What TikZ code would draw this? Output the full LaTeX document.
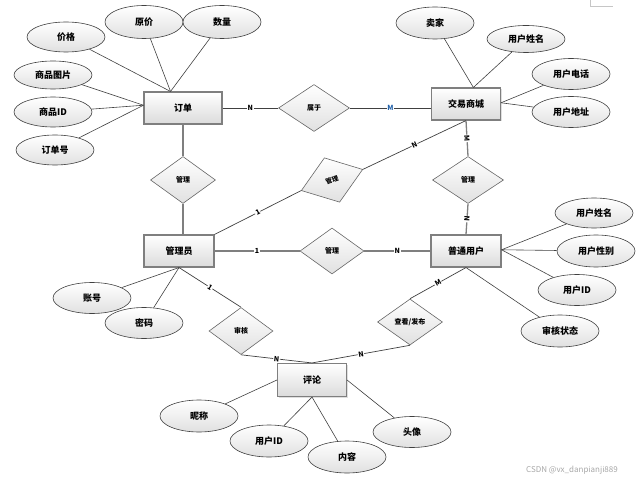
\documentclass[tikz,border=0pt]{standalone}
\usepackage{fontspec}
\setmainfont{Noto Sans CJK SC}
\usetikzlibrary{shapes.geometric,shadows}
\definecolor{lineA}{HTML}{404040}
\definecolor{lineR}{HTML}{7F7F7F}
\definecolor{blueM}{HTML}{1F5FA8}
\tikzset{
  ent/.style={rectangle, draw=lineR, line width=1.1pt, top color=white, bottom color=black!14,
    minimum width=70pt, minimum height=32pt, inner sep=0pt,
    font=\fontsize{9}{10}\selectfont\bfseries,
    drop shadow={shadow xshift=1pt, shadow yshift=-1pt, opacity=.25}},
  attr/.style={ellipse, draw=lineA, line width=0.6pt, top color=white, bottom color=black!12,
    minimum width=78pt, minimum height=30pt, inner sep=0pt,
    font=\fontsize{9}{10}\selectfont\bfseries},
  rel/.style={diamond, draw=lineA!80, line width=0.6pt, top color=white, bottom color=black!12,
    minimum width=65pt, minimum height=47pt, inner sep=0pt,
    font=\fontsize{7}{8}\selectfont\bfseries},
  aline/.style={draw=lineA, line width=0.6pt},
  rline/.style={draw=lineR, line width=1.3pt},
  sline/.style={draw=lineA, line width=0.7pt},
  card/.style={font=\fontsize{7}{8}\selectfont\bfseries, fill=white, inner sep=0.6pt, sloped},
}
\begin{document}
\begin{tikzpicture}[x=1pt,y=-1pt]
\useasboundingbox (0,0) rectangle (642,481);
% entities
\node[ent, minimum width=78pt] (dd) at (183,108) {订单};
\node[ent, minimum width=69pt] (jy) at (466,104) {交易商城};
\node[ent] (gly) at (179,251) {管理员};
\node[ent] (pt) at (466,251) {普通用户};
\node[ent, minimum width=69pt, minimum height=33pt] (pl) at (312,380) {评论};
% relations
\node[rel, minimum width=71pt] (sy) at (314,108) {属于};
\node[rel] (gl1) at (183,180) {管理};
\node[rel, rotate=19, font=\fontsize{6.5}{7}\selectfont\bfseries] (gl2) at (332,180) {管理};
\node[rel, minimum width=71pt] (gl3) at (468,180) {管理};
\node[rel, minimum width=64pt, minimum height=46pt] (gl4) at (332,251) {管理};
\node[rel, minimum height=46pt] (ck) at (410,322) {查看/发布};
\node[rel, minimum width=64pt] (sh) at (241,331) {审核};
% attributes
\node[attr] (jg) at (66,37) {价格};
\node[attr, minimum height=33pt] (yj) at (144,22) {原价};
\node[attr, minimum height=33pt] (sl) at (222,22) {数量};
\node[attr, minimum height=28pt] (tp) at (53,75) {商品图片};
\node[attr] (spid) at (53,112) {商品ID};
\node[attr] (ddh) at (55,150) {订单号};
\node[attr, minimum height=32pt] (mj) at (435,23) {卖家};
\node[attr, minimum height=27pt] (xm1) at (526,39) {用户姓名};
\node[attr, minimum height=31pt] (dh) at (571,74) {用户电话};
\node[attr, minimum height=31pt] (dz) at (571,112) {用户地址};
\node[attr] (xm2) at (594,213) {用户姓名};
\node[attr, minimum height=32pt] (xb) at (596,251) {用户性别};
\node[attr, minimum height=31pt] (uid) at (577,290) {用户ID};
\node[attr, minimum height=32pt] (zt) at (560,331) {审核状态};
\node[attr, minimum height=31pt] (zh) at (92,298) {账号};
\node[attr, minimum height=31pt] (mm) at (144,323) {密码};
\node[attr, minimum height=32pt] (nc) at (199,416) {昵称};
\node[attr, minimum height=32pt] (uid2) at (269,441) {用户ID};
\node[attr, minimum height=32pt] (nr) at (347,457) {内容};
\node[attr, minimum height=31pt] (tx) at (412,432) {头像};
% attribute lines
\draw[aline] (jg) -- (dd.127);
\draw[aline] (yj) -- (dd.127);
\draw[aline] (sl) -- (dd.127);
\draw[aline] (tp) -- (dd.176);
\draw[aline] (spid) -- (dd.176);
\draw[aline] (ddh) -- (dd.176);
\draw[aline] (mj) -- (jy.66);
\draw[aline] (xm1) -- (jy.66);
\draw[aline] (dh) -- (jy.2);
\draw[aline] (dz) -- (jy.2);
\draw[aline] (xm2) -- (pt.2);
\draw[aline] (xb) -- (pt.2);
\draw[aline] (uid) -- (pt.2);
\draw[aline] (zt) -- (pt.south);
\draw[aline] (zh) -- (gly.south);
\draw[aline] (mm) -- (gly.south);
\draw[aline] (nc) -- (pl.west);
\draw[aline] (uid2) -- (pl.south);
\draw[aline] (nr) -- (pl.south);
\draw[aline] (tx) -- (pl.east);
% relation lines
\draw[sline] (dd.east) -- node[card]{N} (sy.west);
\draw[sline] (sy.east) -- node[card, text=blueM]{M} (sy.east -| jy.west);
\draw[rline] (dd.south) -- (gl1.north);
\draw[rline] (gl1.south) -- (gl1.south |- gly.north);
\draw[rline] (gly.east) -- node[card]{1} (gl4.west);
\draw[rline] (gl4.east) -- node[card]{N} (pt.west);
\draw[rline] (jy.south) -- node[card]{M} (gl3.north);
\draw[rline] (gl3.south) -- node[card]{N} (pt.north);
\draw[sline] (gly.north east) -- node[card]{1} (gl2.west);
\draw[sline] (gl2.east) -- node[card]{N} (jy.south);
\draw[sline] (gly.south) -- node[card]{1} (sh.north);
\draw[sline] (sh.south) -- node[card]{N} (pl.north);
\draw[sline] (pt.south) -- node[card]{M} (ck.north);
\draw[sline] (ck.south) -- node[card]{N} (pl.north);
% screenshot artefact and watermark
\draw[gray!45, line width=0.6pt] (590,0) -- (590,6) -- (613,6);
\node[text=gray!70, font=\fontsize{8}{9}\selectfont] (wm) at (572,470) {CSDN @vx\_danpianji889};
\end{tikzpicture}
\end{document}
